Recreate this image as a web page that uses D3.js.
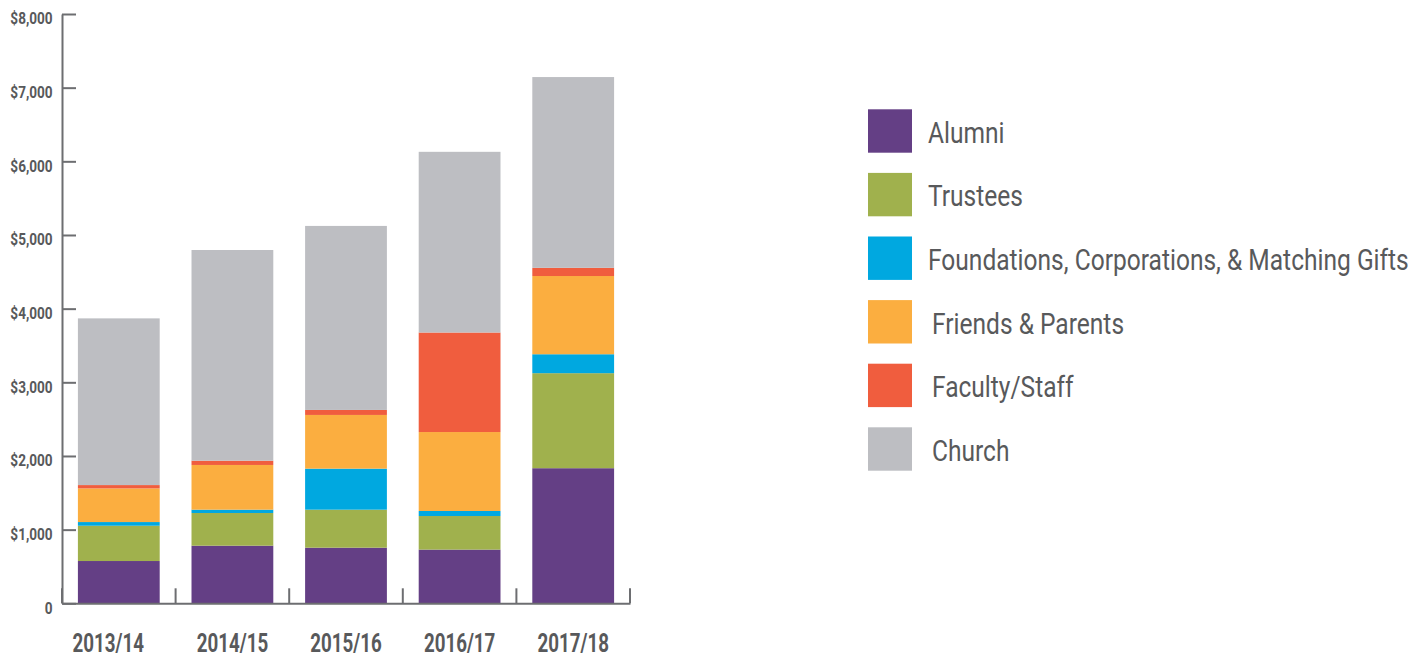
<!DOCTYPE html>
<html>
<head>
<meta charset="utf-8">
<script src="https://cdn.jsdelivr.net/npm/d3@7"></script>
<style>
  body { margin: 0; background: #fff; }
  svg { display: block; }
  text { font-family: Roboto, "Liberation Sans", sans-serif; }
</style>
</head>
<body>
<div id="wrapper"></div>
<script>
// Data
const years = ["2013/14", "2014/15", "2015/16", "2016/17", "2017/18"];
const categories = ["Alumni", "Trustees", "Foundations, Corporations, & Matching Gifts", "Friends & Parents", "Faculty/Staff", "Church"];
const alumni = [574, 782, 755, 729, 1834];
const trustees = [479, 444, 516, 456, 1290];
const foundations = [50, 45, 557, 68, 257];
const friends = [457, 607, 729, 1072, 1062];
const faculty = [45, 58, 68, 1351, 111];
const church = [2263, 2860, 2498, 2453, 2590];
const yTicks = [0, 1000, 2000, 3000, 4000, 5000, 6000, 7000, 8000];
const colors = ["#643f85", "#a0b14d", "#00a8e0", "#fbae40", "#f05d3e", "#bdbec2"];

const seriesValues = [alumni, trustees, foundations, friends, faculty, church];
const table = years.map((year, i) => {
  const row = { year };
  categories.forEach((c, j) => (row[c] = seriesValues[j][i]));
  return row;
});

// Mitoitus
const width = 1427;
const height = 658;
const plot = { left: 62, right: 630, top: 14, bottom: 603.3 };
const axisColor = "#6d6e71";
const textColor = "#58595b";

const svg = d3
  .select("#wrapper")
  .append("svg")
  .attr("width", width)
  .attr("height", height);

// Skaalaimet
const xScale = d3
  .scaleBand()
  .domain(years)
  .range([plot.left, plot.right])
  .paddingInner(0.28)
  .paddingOuter(0.14);

const yScale = d3
  .scaleLinear()
  .domain([0, 8000])
  .range([plot.bottom, plot.top]);

const colorScale = d3.scaleOrdinal().domain(categories).range(colors);

const stacked = d3.stack().keys(categories)(table);

// Palkit
svg
  .append("g")
  .selectAll("g")
  .data(stacked)
  .join("g")
  .attr("fill", (d) => colorScale(d.key))
  .selectAll("rect")
  .data((d) => d)
  .join("rect")
  .attr("x", (d) => xScale(d.data.year))
  .attr("y", (d) => yScale(d[1]))
  .attr("width", xScale.bandwidth())
  .attr("height", (d) => yScale(d[0]) - yScale(d[1]));

// Y-akseli
const yAxis = svg
  .append("g")
  .attr("transform", `translate(${plot.left},0)`)
  .call(
    d3
      .axisLeft(yScale)
      .tickValues(yTicks)
      .tickSizeInner(-14)
      .tickSizeOuter(0)
      .tickPadding(11)
      .tickFormat((d) => (d === 0 ? "0" : d3.format("$,")(d)))
  );
yAxis.select(".domain").attr("stroke", axisColor).attr("stroke-width", 2);
yAxis.selectAll(".tick line").attr("stroke", axisColor).attr("stroke-width", 2);
yAxis
  .selectAll(".tick text")
  .attr("fill", textColor)
  .attr("dy", "0.62em")
  .attr("transform", "scale(0.85,1)")
  .style("font-size", "16px")
  .style("font-weight", "bold");

// X-akseli
const xAxis = svg
  .append("g")
  .attr("transform", `translate(0,${plot.bottom})`)
  .call(d3.axisBottom(xScale).tickSize(0).tickPadding(31));
xAxis.select(".domain").attr("stroke", axisColor).attr("stroke-width", 2);
xAxis
  .selectAll(".tick text")
  .attr("fill", textColor)
  // alkuperäisessä ensimmäinen vuosi on hieman vasemmalla
  .attr("dx", (d, i) => (i === 0 ? -14 : 0))
  .attr("transform", "scale(0.75,1)")
  .style("font-size", "25px")
  .style("font-weight", "bold");

const boundaries = d3.range(years.length + 1).map((i) => plot.left + i * xScale.step());
xAxis
  .selectAll(".boundary")
  .data(boundaries)
  .join("line")
  .attr("class", "boundary")
  .attr("x1", (d) => d)
  .attr("x2", (d) => d)
  .attr("y1", 0)
  .attr("y2", -15)
  .attr("stroke", axisColor)
  .attr("stroke-width", 2);

// Selite
const legend = svg.append("g").attr("transform", "translate(868,109.3)");
const legendItems = legend
  .selectAll("g")
  .data(categories)
  .join("g")
  .attr("transform", (d, i) => `translate(0,${i * 63.6})`);

legendItems
  .append("rect")
  .attr("width", 44)
  .attr("height", 43.4)
  .attr("fill", (d) => colorScale(d));

legendItems
  .append("g")
  .attr("transform", (d, i) => `translate(${i < 3 ? 60 : 64},33.4) scale(0.832,1)`)
  .append("text")
  .attr("fill", textColor)
  .style("font-size", "29.5px")
  .text((d) => d);
</script>
</body>
</html>
